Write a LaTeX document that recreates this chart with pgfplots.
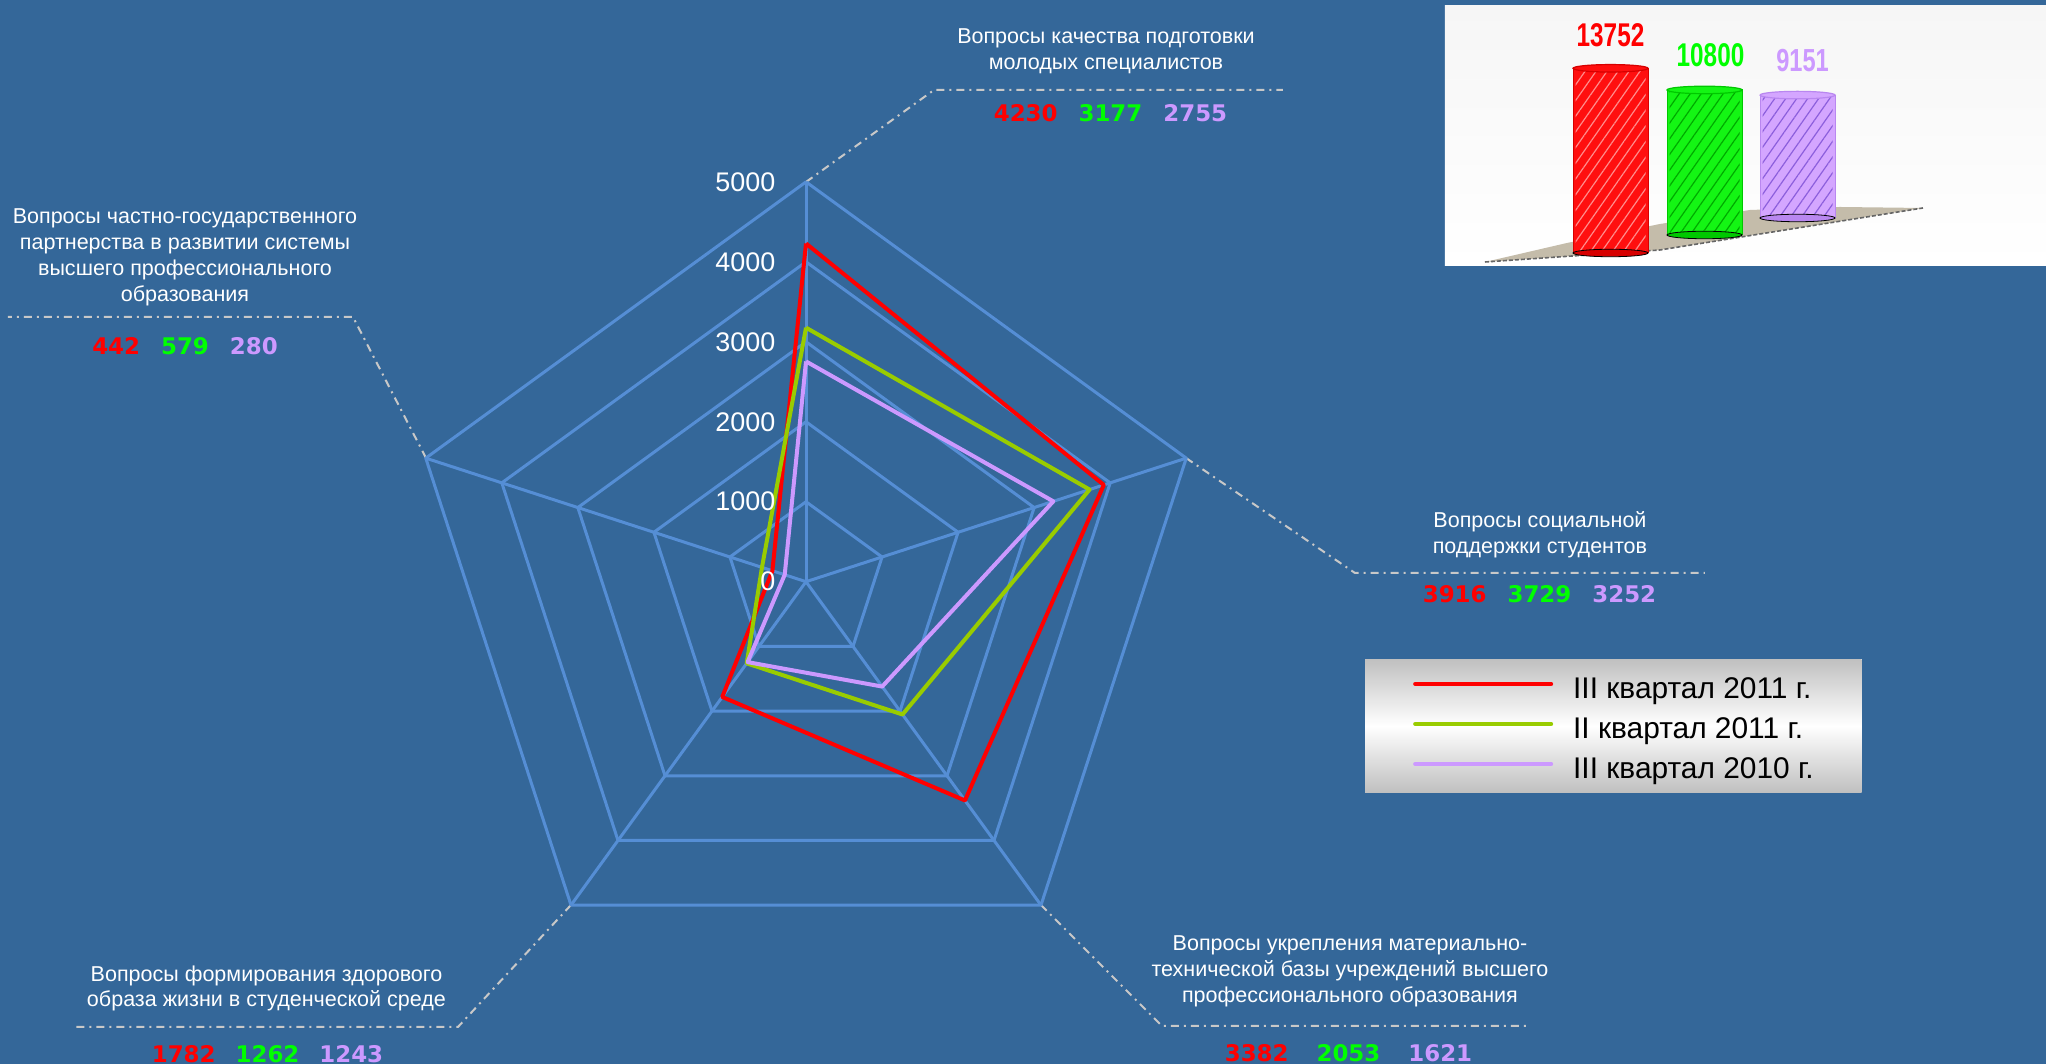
\documentclass[border=0pt]{standalone}
\usepackage{pgfplots}
\pgfplotsset{compat=1.18}
\usepgfplotslibrary{polar}
\usetikzlibrary{patterns,patterns.meta}
\usepackage{graphicx}
\usepackage{fontspec}
\setmainfont{Liberation Sans}
\newfontfamily\numfont{DejaVu Sans}

\definecolor{bg}{RGB}{52,103,153}
\definecolor{gridc}{RGB}{85,142,213}
\definecolor{sred}{RGB}{255,0,0}
\definecolor{sgreen}{RGB}{153,204,0}
\definecolor{slav}{RGB}{204,153,255}
\definecolor{nred}{RGB}{255,0,0}
\definecolor{ngreen}{RGB}{0,255,0}
\definecolor{nlav}{RGB}{204,153,255}
\definecolor{leader}{RGB}{200,200,200}
\definecolor{legtop}{RGB}{192,192,192}
\definecolor{insettop}{RGB}{246,246,246}
\definecolor{insetmid}{RGB}{228,228,228}
\definecolor{floorc}{RGB}{196,188,170}
\definecolor{redD}{RGB}{215,0,0}
\definecolor{redM}{RGB}{255,15,15}
\definecolor{redH}{RGB}{255,140,140}
\definecolor{greenD}{RGB}{0,200,0}
\definecolor{greenM}{RGB}{20,245,20}
\definecolor{greenH}{RGB}{0,170,0}
\definecolor{lavD}{RGB}{185,135,240}
\definecolor{lavM}{RGB}{212,166,255}
\definecolor{lavH}{RGB}{140,95,220}

\tikzset{
  px/.style={shift={(0,532bp)}, x=0.5bp, y=-0.5bp},
  lead/.style={leader, line width=1bp, dash pattern=on 4bp off 2.5bp on 1bp off 2.5bp},
  lbl/.style={text=white, align=center, font=\fontsize{10.8}{13}\selectfont, inner sep=0pt},
  nums/.style={font=\numfont\bfseries\fontsize{11.5}{13}\selectfont, inner sep=0pt},
}
\pgfplotsset{
  insetbar/.style={
    x={(46.75bp,0)}, y={(0,0.006727bp)},
    xmin=0, xmax=2, ymin=0, ymax=14000,
    hide axis, clip=false, anchor=south west,
    /pgf/number format/1000 sep={},
    /pgf/number format/assume math mode=true,
  },
  cylbody/.style={ybar, bar width=37.5bp, bar shift=0pt, draw=#1, line width=0.5bp},
  cylhatch/.style={ybar, bar width=35bp, bar shift=0pt, draw=none,
    pattern={Lines[angle=55,distance=4.5bp,line width=0.6bp]}, pattern color=#1},
  cylcap/.style={only marks, mark=*, mark size=18.75bp},
}

\begin{document}
\begin{tikzpicture}
\path[use as bounding box] (0,0) rectangle (1023bp,532bp);
\begin{scope}[px]
  \fill[bg] (0,0) rectangle (2046,1064);
  \draw[lead] (806,182) -- (934,90) -- (1283,90);
  \draw[lead] (1186,458) -- (1355,573) -- (1705,573);
  \draw[lead] (1041,905) -- (1162,1026) -- (1530,1026);
  \draw[lead] (571,905) -- (458,1027) -- (73,1027);
  \draw[lead] (426,458) -- (353,317) -- (8,317);
\end{scope}

\begin{axis}[
  at={(403bp,241.15bp)}, anchor=center,
  x={(0.04bp,0)}, y={(0,0.04bp)},
  xmin=-5200, xmax=5200, ymin=-5200, ymax=5200,
  hide axis, clip=false,
  legend cell align=left,
  legend style={
    at={(1.1719,0.4071)}, anchor=north west,
    draw=none, top color=legtop, bottom color=legtop, middle color=white,
    font=\fontsize{15}{18}\selectfont, text=black,
    inner xsep=24bp, inner ysep=4.7bp, row sep=3bp,
    nodes={inner sep=0pt, text height=15bp, text depth=2bp},
    /tikz/every odd column/.append style={column sep=10bp},
  },
  legend image code/.code={\draw[#1, line width=2bp, line cap=round] (0bp,0.9bp) -- (68bp,0.9bp);},
]
\pgfplotsinvokeforeach{1000,2000,3000,4000,5000}{
  \addplot[gridc, line width=1.5bp, line join=round, data cs=polar, forget plot]
    coordinates {(90,#1) (18,#1) (-54,#1) (-126,#1) (162,#1) (90,#1)};
}
\pgfplotsinvokeforeach{90,18,-54,-126,162}{
  \addplot[gridc, line width=1.5bp, data cs=polar, forget plot]
    coordinates {(#1,0) (#1,5000)};
}
\addplot[sred, line width=2bp, line join=round, data cs=polar]
  coordinates {(90,4230) (18,3916) (-54,3382) (-126,1782) (162,442) (90,4230)};
\addplot[sgreen, line width=2bp, line join=round, data cs=polar]
  coordinates {(90,3177) (18,3729) (-54,2053) (-126,1262) (162,579) (90,3177)};
\addplot[slav, line width=2bp, line join=round, data cs=polar]
  coordinates {(90,2755) (18,3252) (-54,1621) (-126,1243) (162,280) (90,2755)};
\pgfplotsinvokeforeach{0,1000,2000,3000,4000,5000}{
  \node[anchor=east, inner sep=0pt, text=white, font=\fontsize{13.5}{16}\selectfont] at (axis cs:-380,#1) {#1};
}
\legend{III квартал 2011 г., II квартал 2011 г., III квартал 2010 г.}
\end{axis}

\begin{scope}[px]
  \node[lbl] at (1106,51) {Вопросы качества подготовки\\молодых специалистов};
  \node[nums] at (1110.5,113) {\textcolor{nred}{4230}\hspace{10.5bp}\textcolor{ngreen}{3177}\hspace{10.5bp}\textcolor{nlav}{2755}};
  \node[lbl] at (1540,535) {Вопросы социальной\\поддержки студентов};
  \node[nums] at (1539.5,594) {\textcolor{nred}{3916}\hspace{10.5bp}\textcolor{ngreen}{3729}\hspace{10.5bp}\textcolor{nlav}{3252}};
  \node[lbl] at (1350,971.5) {Вопросы укрепления материально-\\технической базы учреждений высшего\\профессионального образования};
  \node[nums] at (1348.5,1053) {\textcolor{nred}{3382}\hspace{14bp}\textcolor{ngreen}{2053}\hspace{14bp}\textcolor{nlav}{1621}};
  \node[lbl] at (266.5,988.5) {Вопросы формирования здорового\\образа жизни в студенческой среде};
  \node[nums] at (267.5,1054) {\textcolor{nred}{1782}\hspace{10bp}\textcolor{ngreen}{1262}\hspace{10bp}\textcolor{nlav}{1243}};
  \node[lbl] at (185,257.5) {Вопросы частно-государственного\\партнерства в развитии системы\\высшего профессионального\\образования};
  \node[nums] at (185,346) {\textcolor{nred}{442}\hspace{10.5bp}\textcolor{ngreen}{579}\hspace{10.5bp}\textcolor{nlav}{280}};
  % inset panel
  \shade[top color=insettop, middle color=insetmid, bottom color=white] (1445,6) rectangle (2046,266);
  \fill[floorc] (1485,262) -- (1660,250) -- (1760,234) -- (1923,208) -- (1840,207) -- (1750,210) -- (1660,224) -- (1567,243) -- cycle;
  \draw[black!60, line width=0.8bp, dash pattern=on 2bp off 1bp] (1485,262) -- (1660,250) -- (1760,234) -- (1923,208);
\end{scope}

% inset cylinders
\begin{axis}[insetbar, at={(758.5bp,405.5bp)}]
  \addplot[cylcap, mark options={yscale=0.1, fill=redD, draw=none}] coordinates {(1,0)};
  \addplot[cylbody=redD, fill=redM] coordinates {(1,13752)};
  \addplot[cylhatch=redH] coordinates {(1,13752)};
  \addplot[cylcap, mark options={yscale=0.1, fill=redM, draw=redD, line width=0.6bp},
    point meta=y, nodes near coords={\scalebox{0.74}[1]{\bfseries\pgfmathprintnumber{\pgfplotspointmeta}}},
    every node near coord/.append style={anchor=center, yshift=16.5bp, text=nred, font=\fontsize{16.5}{18}\selectfont}]
    coordinates {(1,13752)};
\end{axis}
\begin{axis}[insetbar, at={(805.5bp,414.5bp)}]
  \addplot[cylcap, mark options={yscale=0.1, fill=greenD, draw=none}] coordinates {(1,0)};
  \addplot[cylbody=greenD, fill=greenM] coordinates {(1,10800)};
  \addplot[cylhatch=greenH] coordinates {(1,10800)};
  \addplot[cylcap, mark options={yscale=0.1, fill=greenM, draw=greenD, line width=0.6bp},
    point meta=y, nodes near coords={\scalebox{0.74}[1]{\bfseries\pgfmathprintnumber{\pgfplotspointmeta}}},
    every node near coord/.append style={anchor=center, yshift=17.5bp, xshift=3bp, text=ngreen, font=\fontsize{16.5}{18}\selectfont}]
    coordinates {(1,10800)};
\end{axis}
\begin{axis}[insetbar, at={(852bp,423bp)}]
  \addplot[cylcap, mark options={yscale=0.1, fill=lavD, draw=none}] coordinates {(1,0)};
  \addplot[cylbody=lavD, fill=lavM] coordinates {(1,9151)};
  \addplot[cylhatch=lavH] coordinates {(1,9151)};
  \addplot[cylcap, mark options={yscale=0.1, fill=lavM, draw=lavD, line width=0.6bp},
    point meta=y, nodes near coords={\scalebox{0.74}[1]{\bfseries\pgfmathprintnumber{\pgfplotspointmeta}}},
    every node near coord/.append style={anchor=center, yshift=17.5bp, xshift=2.5bp, text=nlav, font=\fontsize{16}{18}\selectfont}]
    coordinates {(1,9151)};
\end{axis}
\end{tikzpicture}
\end{document}
